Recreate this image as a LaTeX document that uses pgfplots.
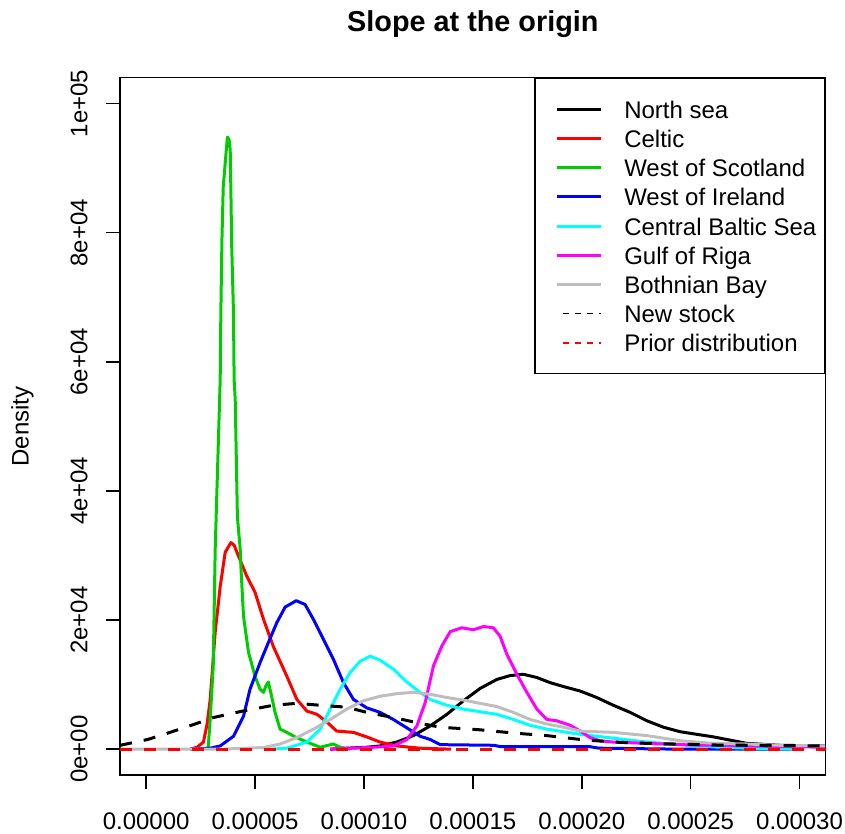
\documentclass[border=0pt]{standalone}
\usepackage{fontspec}
\setmainfont{Liberation Sans}
\usepackage{pgfplots}
\pgfplotsset{compat=1.18}

\definecolor{rred}{RGB}{255,0,0}
\definecolor{rgreen}{RGB}{0,205,0}
\definecolor{rblue}{RGB}{0,0,255}
\definecolor{rcyan}{RGB}{0,255,255}
\definecolor{rmagenta}{RGB}{255,0,255}
\definecolor{rgray}{RGB}{190,190,190}

\begin{document}
\fontsize{12}{14.4}\selectfont
\begin{tikzpicture}
\useasboundingbox (-60pt,-29.5pt) rectangle (362.5pt,387.5pt);
\begin{axis}[
    at={(0,0)}, anchor=south west,
    scale only axis,
    width=352.85pt, height=348.65pt,
    xmin=-0.000012, xmax=0.000312,
    ymin=-4000, ymax=104000,
    clip mode=individual,
    axis line style={line width=0.75pt},
    every tick/.style={black, line width=0.75pt},
    tick align=outside, major tick length=7.2pt,
    xtick pos=bottom, ytick pos=left,
    scaled x ticks=false, scaled y ticks=false,
    xtick={0,0.00005,0.0001,0.00015,0.0002,0.00025,0.0003},
    xticklabels={0.00000,0.00005,0.00010,0.00015,0.00020,0.00025,0.00030},
    ytick={0,20000,40000,60000,80000,100000},
    yticklabels={,,,,,},
    xticklabel style={anchor=base, inner sep=0pt, yshift=-19.95pt},
    ticklabel style={font=\fontsize{12}{14.4}\selectfont},
    title={Slope at the origin},
    title style={at={(axis description cs:0.5,1)}, anchor=base, yshift=17.2pt,
      inner sep=0pt, font=\bfseries\fontsize{14.4}{17}\selectfont},
    ylabel={Density},
    every axis y label/.style={at={(axis description cs:-0.1294,0.5)},
      rotate=90, anchor=base, inner sep=0pt, font=\fontsize{12}{14.4}\selectfont},
    legend cell align=left,
    legend image code/.code={\path[draw=none] (0pt,0pt) (28.5pt,0pt);
      \draw[#1] (6.5pt,0pt) -- (28.5pt,0pt);},
    legend style={at={(rel axis cs:1,1)}, anchor=north east,
      draw=black, line width=0.75pt, fill=white,
      inner xsep=4.3pt, inner ysep=9.4pt, row sep=2.6pt, column sep=11pt,
      nodes={inner sep=0pt, text height=10.5pt, text depth=1.5pt,
        font=\fontsize{12}{14.4}\selectfont}},
    every axis plot/.append style={line width=1.5pt, line join=round},
  ]

% North sea
\addplot[black, forget plot] coordinates {
(8.45e-5,0) (9.21e-5,150) (1.013e-4,300) (1.074e-4,500) (1.151e-4,1100)
(1.227e-4,2100) (1.304e-4,3600) (1.381e-4,5400) (1.457e-4,7500) (1.533e-4,9400)
(1.610e-4,10800) (1.671e-4,11400) (1.732e-4,11600) (1.794e-4,11100) (1.855e-4,10300)
(1.916e-4,9700) (1.993e-4,9000) (2.069e-4,8000) (2.145e-4,6800) (2.222e-4,5700)
(2.299e-4,4400) (2.375e-4,3400) (2.452e-4,2700) (2.528e-4,2300) (2.605e-4,1900)
(2.681e-4,1400) (2.758e-4,900) (2.911e-4,600) (3.117e-4,500)
};
% Celtic
\addplot[rred, forget plot] coordinates {
(2.02e-5,0) (2.34e-5,300) (2.63e-5,1100) (2.80e-5,3900) (2.94e-5,7700)
(3.17e-5,18100) (3.40e-5,25200) (3.63e-5,30500) (3.89e-5,32000) (4.04e-5,31600)
(4.24e-5,29900) (4.62e-5,26800) (5.00e-5,24300) (5.39e-5,20100) (5.84e-5,15900)
(6.46e-5,11300) (6.92e-5,7700) (7.38e-5,5900) (7.84e-5,5400) (8.30e-5,4200)
(8.75e-5,2800) (9.52e-5,2600) (1.013e-4,1900) (1.074e-4,1100) (1.151e-4,500)
(1.258e-4,150) (1.40e-4,0)
};
% West of Scotland
\addplot[rgreen, forget plot] coordinates {
(2.71e-5,0) (2.85e-5,300) (2.94e-5,4600) (3.08e-5,12800) (3.17e-5,30900)
(3.40e-5,57200) (3.43e-5,67600) (3.48e-5,78900) (3.54e-5,87100) (3.73e-5,94800)
(3.81e-5,94400) (3.86e-5,92800) (3.89e-5,86600) (3.93e-5,77800) (4.01e-5,67600)
(4.04e-5,57200) (4.09e-5,54100) (4.19e-5,36000) (4.32e-5,30900) (4.35e-5,28300)
(4.47e-5,20600) (4.70e-5,15000) (5.00e-5,11300) (5.23e-5,9300) (5.39e-5,8800)
(5.51e-5,9900) (5.61e-5,10400) (5.72e-5,8800) (5.92e-5,5700) (6.15e-5,3100)
(6.46e-5,2600) (6.84e-5,1900) (7.38e-5,1100) (7.99e-5,300) (8.59e-5,800)
(8.91e-5,300) (9.37e-5,0)
};
% West of Ireland
\addplot[rblue, forget plot] coordinates {
(2.02e-5,0) (2.94e-5,150) (3.40e-5,500) (4.01e-5,2000) (4.47e-5,5100)
(4.77e-5,9300) (5.23e-5,13400) (5.61e-5,16500) (6.00e-5,19600) (6.38e-5,22000)
(6.89e-5,23000) (7.30e-5,22400) (7.68e-5,20100) (8.14e-5,17000) (8.60e-5,13900)
(9.06e-5,10300) (9.52e-5,7700) (1.013e-4,6400) (1.074e-4,5700) (1.135e-4,4600)
(1.197e-4,3300) (1.258e-4,2000) (1.304e-4,1500) (1.350e-4,700) (1.598e-4,600)
(1.625e-4,400) (2.034e-4,400) (2.08e-4,150) (2.45e-4,0) (3.0e-4,0)
};
% Central Baltic Sea
\addplot[rcyan, forget plot] coordinates {
(5.69e-5,0) (6.46e-5,150) (7.38e-5,1100) (7.99e-5,3100) (8.45e-5,6200)
(8.91e-5,9300) (9.37e-5,11900) (9.82e-5,13600) (1.028e-4,14400) (1.074e-4,13800)
(1.135e-4,12400) (1.197e-4,10400) (1.258e-4,8800) (1.304e-4,7700) (1.381e-4,6800)
(1.457e-4,6200) (1.533e-4,5800) (1.610e-4,5400) (1.686e-4,4600) (1.763e-4,3700)
(1.840e-4,3100) (1.916e-4,2700) (1.993e-4,2300) (2.145e-4,1700) (2.299e-4,1100)
(2.452e-4,700) (2.605e-4,350) (2.758e-4,150) (3.0e-4,0)
};
% Gulf of Riga
\addplot[rmagenta, forget plot] coordinates {
(8.45e-5,0) (9.06e-5,80) (1.074e-4,350) (1.135e-4,500) (1.197e-4,1500)
(1.243e-4,3600) (1.281e-4,7200) (1.319e-4,12900) (1.358e-4,16000) (1.396e-4,18200)
(1.449e-4,18800) (1.503e-4,18500) (1.549e-4,19000) (1.594e-4,18800) (1.625e-4,17500)
(1.656e-4,14700) (1.702e-4,11600) (1.748e-4,8800) (1.794e-4,6200) (1.840e-4,4600)
(1.885e-4,4400) (1.947e-4,3700) (1.993e-4,2800) (2.038e-4,1800) (2.084e-4,1300)
(2.145e-4,1100) (2.299e-4,900) (2.452e-4,700) (2.758e-4,500) (3.117e-4,300)
};
% Bothnian Bay
\addplot[rgray, forget plot] coordinates {
(-1.2e-5,0) (3.40e-5,0) (5.39e-5,250) (6.15e-5,800) (6.92e-5,1800) (7.68e-5,3100)
(8.45e-5,4600) (9.21e-5,6200) (9.98e-5,7500) (1.074e-4,8200) (1.151e-4,8600)
(1.227e-4,8800) (1.304e-4,8500) (1.381e-4,8000) (1.457e-4,7600) (1.533e-4,7100)
(1.610e-4,6600) (1.686e-4,5700) (1.763e-4,4600) (1.840e-4,3900) (1.916e-4,3400)
(1.993e-4,2800) (2.145e-4,2600) (2.299e-4,2100) (2.452e-4,1300) (2.605e-4,900)
(2.758e-4,800) (2.911e-4,600) (3.117e-4,500)
};
% New stock
\addplot[black, dash pattern=on 6pt off 6pt, forget plot] coordinates {
(-1.19e-5,600) (0.07e-5,1500) (1.10e-5,2600) (2.25e-5,3900) (3.09e-5,4900)
(4.43e-5,5900) (5.84e-5,6800) (6.92e-5,7100) (7.99e-5,6800) (9.21e-5,6500)
(1.013e-4,5700) (1.135e-4,4900) (1.258e-4,4000) (1.350e-4,3400) (1.533e-4,3000)
(1.686e-4,2500) (1.840e-4,2100) (1.993e-4,1500) (2.145e-4,1100) (2.299e-4,900)
(2.605e-4,650) (3.117e-4,500)
};
% Prior distribution
\addplot[rred, dash pattern=on 6pt off 6pt, forget plot] coordinates {
(-1.2e-5,0) (1.0e-4,0) (2.0e-4,0) (3.12e-4,0)
};

% y tick labels, rotated as in R
\foreach \v/\t in {0/0e+00, 20000/2e+04, 40000/4e+04, 60000/6e+04, 80000/8e+04, 100000/1e+05} {
  \edef\temp{\noexpand\node[rotate=90, anchor=base, inner sep=0pt,
    font=\noexpand\fontsize{12}{14.4}\noexpand\selectfont]
    at ([xshift=-16.3pt]axis cs:-0.000012,\v) {\t};}
  \temp
}

\addlegendimage{black, line width=1.5pt}
\addlegendentry{North sea}
\addlegendimage{rred, line width=1.5pt}
\addlegendentry{Celtic}
\addlegendimage{rgreen, line width=1.5pt}
\addlegendentry{West of Scotland}
\addlegendimage{rblue, line width=1.5pt}
\addlegendentry{West of Ireland}
\addlegendimage{rcyan, line width=1.5pt}
\addlegendentry{Central Baltic Sea}
\addlegendimage{rmagenta, line width=1.5pt}
\addlegendentry{Gulf of Riga}
\addlegendimage{rgray, line width=1.5pt}
\addlegendentry{Bothnian Bay}
\addlegendimage{black, line width=0.75pt, dash pattern=on 3pt off 3pt, dash phase=-3pt}
\addlegendentry{New stock}
\addlegendimage{rred, line width=0.75pt, dash pattern=on 3pt off 3pt, dash phase=-3pt}
\addlegendentry{Prior distribution}
\end{axis}
\end{tikzpicture}
\end{document}
